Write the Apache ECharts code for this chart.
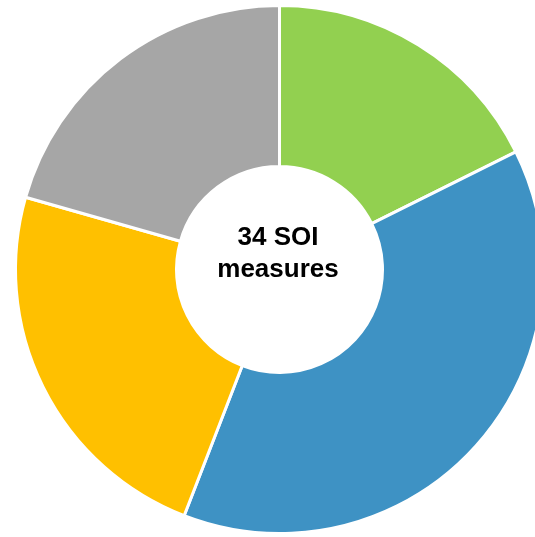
<!DOCTYPE html>
<html><head><meta charset="utf-8">
<script src="https://cdn.jsdelivr.net/npm/echarts@6/dist/echarts.min.js"></script>
<style>html,body{margin:0;padding:0;background:#fff}#c{width:535px;height:537px}</style>
</head><body><div id="c"></div>
<script>
const categories = ['A', 'B', 'C', 'D'];
const values = [6, 13, 8, 7];
const colors = ['#92D050', '#3E92C4', '#FFC000', '#A6A6A6'];
const centerText = '34 SOI\nmeasures';

const chart = echarts.init(document.getElementById('c'), null, {renderer: 'canvas'});
chart.setOption({
  animation: false,
  series: [{
    type: 'pie',
    center: [279.5, 269.5],
    radius: [103, 264],
    startAngle: 90,
    clockwise: true,
    label: {show: false},
    labelLine: {show: false},
    itemStyle: {borderColor: '#fff', borderWidth: 3},
    data: categories.map((c, i) => ({name: c, value: values[i], itemStyle: {color: colors[i]}}))
  }],
  graphic: [{
    type: 'text',
    style: {
      text: centerText,
      x: 278, y: 254,
      textAlign: 'center', textVerticalAlign: 'middle',
      font: 'bold 26px "Liberation Sans", Arial, sans-serif',
      lineHeight: 32,
      fill: '#000'
    }
  }]
});
</script></body></html>
